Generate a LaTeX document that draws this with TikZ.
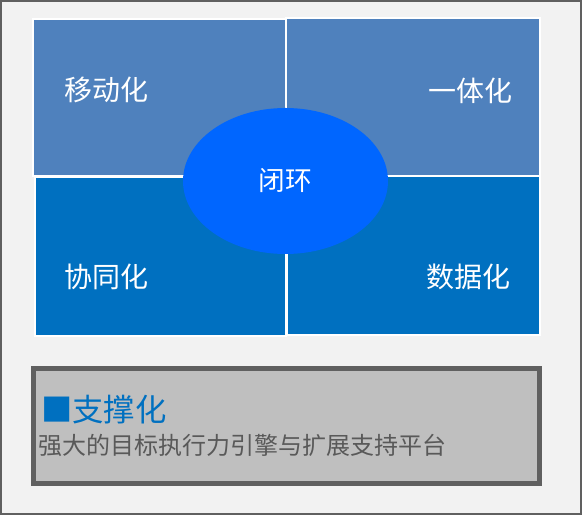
\documentclass[tikz,border=0pt]{standalone}
\usepackage{fontspec}
\setmainfont{Noto Sans CJK SC}
\usetikzlibrary{shapes.geometric}
\definecolor{topblue}{HTML}{4F81BD}
\definecolor{lowblue}{HTML}{0070C0}
\definecolor{loopblue}{HTML}{0066FF}
\definecolor{framegray}{HTML}{606060}
\definecolor{boxfill}{HTML}{BFBFBF}
\definecolor{textgray}{HTML}{595959}

\begin{document}
\begin{tikzpicture}[x=0.75pt,y=-0.75pt,
  tile/.style={draw=white,line width=1.5pt},
  lbl/.style={text=white,inner sep=0pt,font=\fontsize{21}{21}\selectfont}]
\useasboundingbox (0,0) rectangle (583,516);
\draw[framegray,fill=black!5,line width=1.5pt] (1,1) rectangle (581,514);
% four tiles
\draw[tile,fill=topblue] (33,19) rectangle (286,176);
\draw[tile,fill=topblue] (286,18) rectangle (540,176);
\draw[tile,fill=lowblue] (35,177) rectangle (286,336);
\draw[tile,fill=lowblue] (287,176) rectangle (540,335);
\node[lbl,anchor=west] (mob) at (64,90) {移动化};
\node[lbl,anchor=east] (one) at (513,91) {一体化};
\node[lbl,anchor=west] (coop) at (64,277) {协同化};
\node[lbl,anchor=east] (data) at (511,277) {数据化};
% centre
\node[ellipse,fill=loopblue,minimum width=153.75pt,minimum height=109.5pt,inner sep=0pt,
  text=white,font=\fontsize{20}{20}\selectfont] (loop) at (285.5,181) {闭环};
% support box
\draw[framegray,fill=boxfill,line width=3.75pt] (33,368.5) rectangle (539,483.5);
\node[anchor=west,inner sep=0pt,text=lowblue,font=\fontsize{23.5}{23.5}\selectfont] (sup) at (41,410) {■支撑化};
\node[anchor=west,inner sep=0pt,text=textgray,font=\fontsize{18}{18}\selectfont] (desc) at (38,445) {强大的目标执行力引擎与扩展支持平台};
\end{tikzpicture}
\end{document}
